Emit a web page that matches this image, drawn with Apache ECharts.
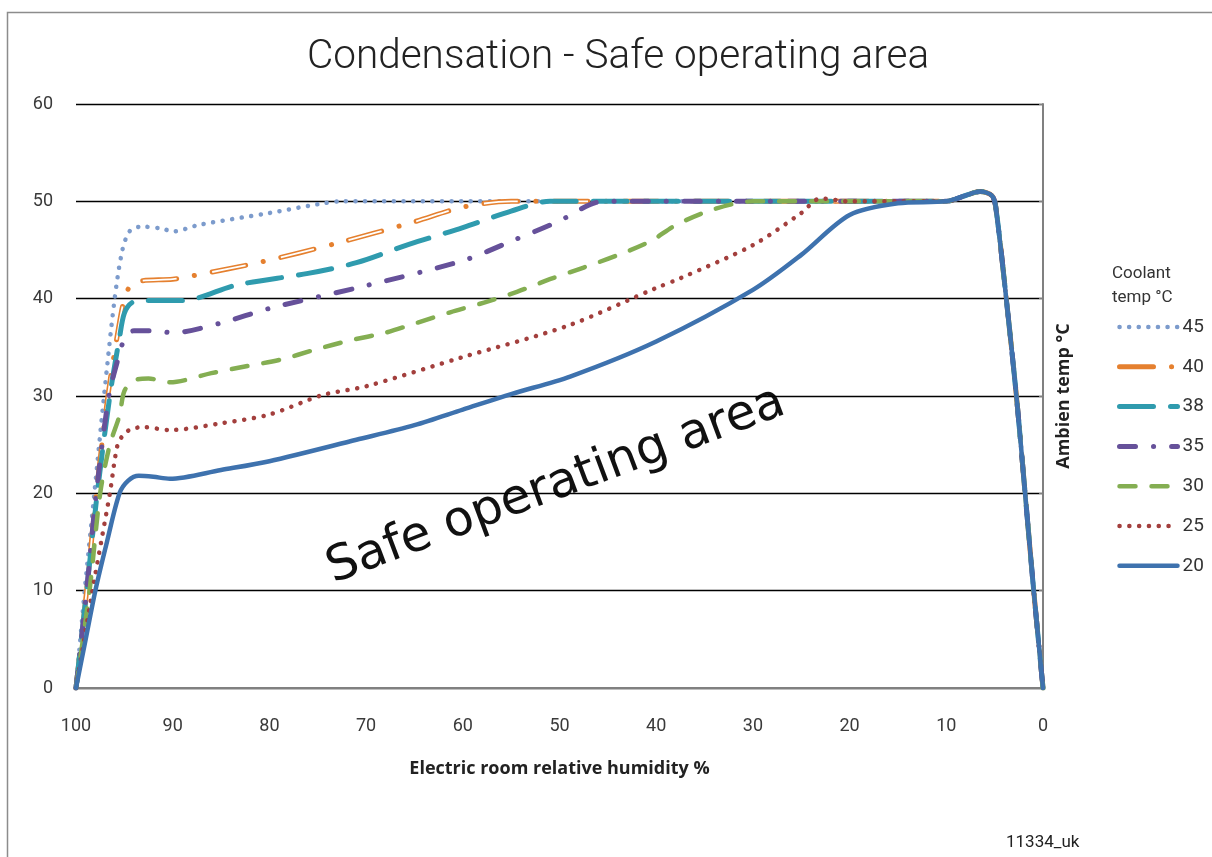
<!DOCTYPE html>
<html>
<head>
<meta charset="utf-8">
<title>Condensation - Safe operating area</title>
<script src="https://cdn.jsdelivr.net/npm/echarts@6/dist/echarts.min.js"></script>
<style>
  html, body { margin: 0; padding: 0; background: #fff; }
  #chart { width: 1212px; height: 857px; }
</style>
</head>
<body>
<div id="chart"></div>
<script>
// Coolant temperature series (legend labels)
const seriesNames = ['45', '40', '38', '35', '30', '25', '20']

// Humidity (%) / ambient temp (°C), per coolant temp
const hum45 = [100, 99.1, 98.1, 97.1, 96, 95.2, 94.4, 93.2, 91.1, 90, 87.2, 80, 75, 72.5, 60, 50]
const temp45 = [0, 10, 20, 30, 40, 45, 47, 47.4, 47.2, 46.9, 47.6, 48.8, 49.7, 50, 50, 50]

const hum40 = [100, 98.9, 97.9, 96.7, 95.6, 95, 94.4, 93.5, 90, 88.2, 80.7, 73, 65, 60, 55, 45]
const temp40 = [0, 10, 20, 30, 37, 40, 41.3, 41.8, 42, 42.3, 43.8, 45.7, 47.9, 49.4, 50, 50]

const hum38 = [100, 98.9, 97.8, 96.5, 95.5, 95, 94.2, 92.8, 89, 83.4, 76, 71, 65.5, 60, 55, 51, 45]
const temp38 = [0, 10, 20, 30, 36, 38.5, 39.6, 39.8, 39.8, 41.4, 42.6, 43.7, 45.6, 47.3, 49, 50, 50]

const hum35 = [100, 98.9, 97.9, 96.6, 95.6, 95, 94, 92, 90, 85, 80, 71, 60, 55, 50, 47, 45.5]
const temp35 = [0, 10, 20, 30, 34, 35.8, 36.7, 36.7, 36.5, 37.5, 39, 41.1, 43.9, 45.9, 48, 49.6, 50]

const hum30 = [100, 98.6, 97.5, 96.5, 95.5, 95, 94, 92.5, 90.3, 86, 82.4, 78.8, 75.3, 71.7, 68, 64.8, 61.3, 57.8, 54.4, 51, 47.5, 43.9, 40.6, 37.9, 34, 30]
const temp30 = [0, 10, 20, 25, 28, 30.5, 31.6, 31.8, 31.4, 32.35, 33.05, 33.75, 34.75, 35.7, 36.5, 37.5, 38.6, 39.6, 40.7, 42, 43.2, 44.5, 45.9, 47.6, 49.2, 50]

const hum25 = [100, 98.3, 97.4, 96.5, 95.7, 95.1, 94.3, 93, 90.3, 85, 80, 74.5, 70, 60, 49.2, 40, 37.5, 30, 25, 23, 20]
const temp25 = [0, 10, 15, 20, 25, 26, 26.6, 26.8, 26.5, 27.2, 28.1, 30.1, 31, 34, 37.2, 41.1, 42.1, 45.5, 48.8, 50.3, 50]

const hum20 = [100, 99, 98, 96.8, 95.5, 94.6, 93.5, 92, 90.3, 85, 80, 71, 65, 60, 55, 48.9, 40, 30, 25, 20, 15, 10]
const temp20 = [0, 5, 10, 15, 20, 21.3, 21.8, 21.7, 21.5, 22.4, 23.3, 25.5, 27, 28.6, 30.2, 32, 35.6, 40.9, 44.5, 48.6, 49.8, 50]

// Shared right-hand part (all curves meet at 50 °C and drop to 0 at 0 %)
const tailHum = [40, 30, 20, 15, 10, 8, 6.5, 5.3, 4.9, 3.8, 2.75, 1.85, 0.96, 0]
const tailTemp = [50, 50, 50, 50, 50, 50.6, 51, 50.6, 49.5, 40, 30, 20, 10, 0]

// Axis ticks
const xTicks = [100, 90, 80, 70, 60, 50, 40, 30, 20, 10, 0]
const yTicks = [0, 10, 20, 30, 40, 50, 60]

const colors = {
  '45': '#7c9bcc',
  '40': '#e5802f',
  '38': '#2f9bae',
  '35': '#66519a',
  '30': '#84ae52',
  '25': '#a33f3d',
  '20': '#3e72ae'
}

const toPoints = (hum, temp) => {
  const pts = hum.map((h, i) => [h, temp[i]])
  const last = hum[hum.length - 1]
  tailHum.forEach((h, i) => {
    if (h < last) pts.push([h, tailTemp[i]])
  })
  return pts
}

const lineSeries = (name, data, width, dash, color, cap) => ({
  name: name,
  type: 'line',
  data: data,
  smooth: 0.3,
  symbol: 'none',
  silent: true,
  lineStyle: {
    color: color,
    width: width,
    type: dash,
    cap: cap || 'round',
    join: 'round'
  },
  itemStyle: { color: color }
})

const chart = echarts.init(document.getElementById('chart'))

const d40 = toPoints(hum40, temp40)

const series = [
  lineSeries('45', toPoints(hum45, temp45), 4.5, [0.1, 9.5], colors['45']),
  lineSeries('40', d40, 5, [34, 18, 0.1, 18], colors['40']),
  // white core makes the 40 °C dashes look hollow
  lineSeries('40 core', d40, 1.8, [34, 36.1], '#ffffff', 'butt'),
  lineSeries('38', toPoints(hum38, temp38), 5, [34, 17], colors['38']),
  lineSeries('35', toPoints(hum35, temp35), 5, [16, 18, 0.1, 18], colors['35']),
  lineSeries('30', toPoints(hum30, temp30), 4.5, [16, 16], colors['30']),
  lineSeries('25', toPoints(hum25, temp25), 4.5, [0.1, 9.7], colors['25']),
  lineSeries('20', toPoints(hum20, temp20), 4.5, 'solid', colors['20'])
]

const option = {
  backgroundColor: '#ffffff',
  animation: false,
  title: {
    text: 'Condensation - Safe operating area',
    left: 613,
    top: 32,
    textAlign: 'center',
    textStyle: {
      fontFamily: 'Roboto',
      fontWeight: 300,
      fontSize: 40.5,
      color: '#222222'
    }
  },
  legend: {
    data: seriesNames,
    orient: 'vertical',
    left: 1112,
    top: 312,
    itemWidth: 58,
    itemHeight: 14,
    itemGap: 19.8,
    selectedMode: false,
    itemStyle: { opacity: 0 },
    lineStyle: { width: 'inherit' },
    textStyle: {
      fontFamily: 'Roboto',
      fontSize: 19,
      lineHeight: 20,
      color: '#333333'
    }
  },
  grid: {
    left: 76,
    right: 169,
    top: 104,
    bottom: 169
  },
  xAxis: {
    type: 'value',
    inverse: true,
    min: 0,
    max: 100,
    interval: 10,
    name: 'Electric room relative humidity %',
    nameLocation: 'middle',
    nameGap: 72,
    nameTextStyle: {
      fontFamily: 'Open Sans',
      fontWeight: 'bold',
      fontSize: 18,
      color: '#222222'
    },
    axisLine: { show: true, lineStyle: { color: '#808080', width: 2 } },
    axisTick: { show: false },
    splitLine: { show: false },
    axisLabel: {
      margin: 29,
      fontFamily: 'Roboto',
      fontSize: 18,
      color: '#3a3a3a',
      formatter: v => (xTicks.includes(v) ? String(v) : '')
    }
  },
  yAxis: [
    {
      type: 'value',
      min: 0,
      max: 60,
      interval: 10,
      position: 'left',
      axisLine: { show: false },
      axisTick: { show: false },
      splitLine: { show: true, lineStyle: { color: '#000000', width: 1.4 } },
      axisLabel: {
        margin: 23,
        fontFamily: 'Roboto',
        fontSize: 18,
        color: '#3a3a3a',
        formatter: v => (yTicks.includes(v) ? String(v) : '')
      }
    },
    {
      type: 'value',
      min: 0,
      max: 60,
      interval: 10,
      position: 'right',
      name: 'Ambien temp °C',
      nameLocation: 'middle',
      nameGap: 12,
      nameRotate: 90,
      nameTextStyle: {
        fontFamily: 'Open Sans',
        fontWeight: 'bold',
        fontSize: 18,
        color: '#222222'
      },
      axisLine: { show: true, lineStyle: { color: '#808080', width: 2 } },
      axisTick: { show: true, inside: true, length: 4, lineStyle: { color: '#808080' } },
      splitLine: { show: false },
      axisLabel: { show: false }
    }
  ],
  graphic: [
    {
      type: 'rect',
      silent: true,
      z: -10,
      shape: { x: 7.5, y: 12.5, width: 1400, height: 1000 },
      style: { fill: 'none', stroke: '#8c8c8c', lineWidth: 1.5 }
    },
    {
      type: 'text',
      silent: true,
      left: 1112,
      top: 262,
      style: {
        text: 'Coolant\ntemp °C',
        font: '17px Roboto',
        lineHeight: 24,
        fill: '#333333'
      }
    },
    {
      type: 'text',
      silent: true,
      x: 556,
      y: 486,
      rotation: 0.358,
      style: {
        text: 'Safe operating area',
        font: '49px "DejaVu Sans"',
        fill: '#111111',
        align: 'center',
        verticalAlign: 'middle'
      }
    },
    {
      type: 'text',
      silent: true,
      left: 1006,
      top: 834,
      style: {
        text: '11334_uk',
        font: '17px Roboto',
        fill: '#222222'
      }
    }
  ],
  series: series
}

chart.setOption(option)
</script>
</body>
</html>
